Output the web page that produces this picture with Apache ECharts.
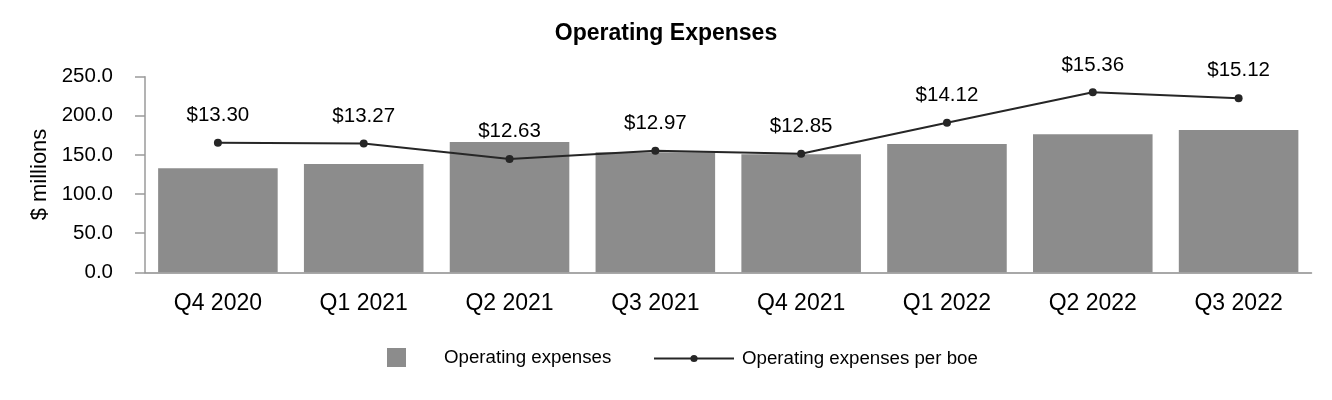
<!DOCTYPE html>
<html>
<head>
<meta charset="utf-8">
<script src="https://cdn.jsdelivr.net/npm/echarts@6/dist/echarts.min.js"></script>
<style>
  html, body { margin: 0; padding: 0; background: #ffffff; }
  #chart { width: 1332px; height: 400px; }
</style>
</head>
<body>
<div id="chart"></div>
<script>
const categories = ['Q4 2020', 'Q1 2021', 'Q2 2021', 'Q3 2021', 'Q4 2021', 'Q1 2022', 'Q2 2022', 'Q3 2022'];
const operatingExpenses = [133, 138.5, 166.5, 153.5, 151, 164, 176.5, 182];
const expensesPerBoe = [13.30, 13.27, 12.63, 12.97, 12.85, 14.12, 15.36, 15.12];
const yTicksMin = 0, yTicksMax = 250, yTicksStep = 50;

const font = '"Liberation Sans", Arial, Helvetica, sans-serif';
const chart = echarts.init(document.getElementById('chart'));
chart.setOption({
  backgroundColor: '#ffffff',
  animation: false,
  title: {
    text: 'Operating Expenses',
    left: 'center',
    top: 17,
    textStyle: { fontFamily: font, fontSize: 23, fontWeight: 'bold', color: '#000000' }
  },
  legend: [
    {
      left: 387,
      top: 348,
      padding: 0,
      itemWidth: 19,
      itemHeight: 19,
      textStyle: { fontFamily: font, fontSize: 18.7, color: '#000000', padding: [0, 0, 0, 33] },
      data: [{ name: 'Operating expenses', icon: 'rect' }]
    },
    {
      left: 653,
      top: 349,
      padding: 0,
      itemWidth: 80,
      itemHeight: 9,
      textStyle: { fontFamily: font, fontSize: 18.7, color: '#000000', padding: [0, 0, 0, 3] },
      data: [{ name: 'Operating expenses per boe' }]
    }
  ],
  grid: { left: 145, right: 20.5, top: 76.7, bottom: 127.7, containLabel: false },
  xAxis: {
    type: 'category',
    data: categories,
    axisLine: { lineStyle: { color: '#8c8c8c', width: 1.5 } },
    axisTick: { alignWithLabel: true, length: 10, lineStyle: { color: '#8c8c8c', width: 1.5 } },
    axisLabel: { fontFamily: font, fontSize: 23, color: '#000000', margin: 20 }
  },
  yAxis: [
    {
      type: 'value',
      min: yTicksMin, max: yTicksMax, interval: yTicksStep,
      name: '$ millions',
      nameLocation: 'middle',
      nameGap: 93,
      nameTextStyle: { fontFamily: font, fontSize: 22, color: '#000000' },
      axisLine: { show: true, lineStyle: { color: '#9a9a9a', width: 1.5 } },
      axisTick: { show: true, length: 10, lineStyle: { color: '#9a9a9a', width: 1.5 } },
      splitLine: { show: false },
      axisLabel: {
        fontFamily: font, fontSize: 20.5, color: '#000000', margin: 32,
        formatter: v => v.toFixed(1)
      }
    },
    {
      type: 'value',
      min: 8, max: 16,
      show: false,
      splitLine: { show: false }
    }
  ],
  series: [
    {
      name: 'Operating expenses',
      type: 'bar',
      data: operatingExpenses,
      barCategoryGap: '18%',
      itemStyle: { color: '#8c8c8c' },
      z: 1
    },
    {
      name: 'Operating expenses per boe',
      type: 'line',
      yAxisIndex: 1,
      data: expensesPerBoe,
      symbol: 'circle',
      symbolSize: 8,
      lineStyle: { color: '#262626', width: 2 },
      itemStyle: { color: '#262626' },
      label: {
        show: true,
        position: 'top',
        distance: 13,
        fontFamily: font,
        fontSize: 20.5,
        color: '#000000',
        formatter: p => '$' + p.value.toFixed(2)
      },
      z: 3
    }
  ]
});
</script>
</body>
</html>
